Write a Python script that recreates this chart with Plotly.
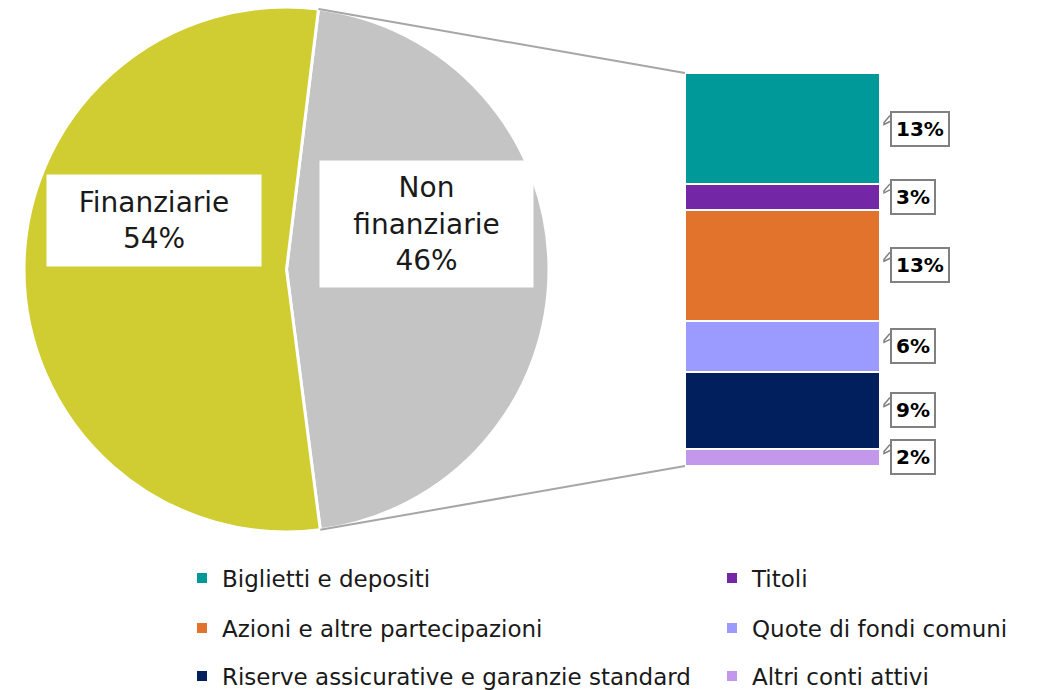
import math
import plotly.graph_objects as go

# ---- data ----
pie_labels = ["Non finanziarie", "Finanziarie"]
pie_values = [46, 54]
pie_colors = ["#C4C4C4", "#D0CD32"]

bar_names = ["Biglietti e depositi", "Titoli", "Azioni e altre partecipazioni",
             "Quote di fondi comuni", "Riserve assicurative e garanzie standard",
             "Altri conti attivi"]
bar_values = [13, 3, 13, 6, 9, 2]
bar_colors = ["#009999", "#7326A6", "#E2732D", "#9B9BFF", "#001F5C", "#C398EB"]

W, H = 1043, 690
FONT = "DejaVu Sans"

# ---- layout geometry (pixels) ----
pie_box = (24, 7, 549, 532)  # left, top, right, bottom
bar_box = (685, 73, 880, 466)
legend_cols = [182, 712]
legend_rows = [578, 628, 676]
callout_gap = 10

def px2paper(x, y):
    return x / W, 1 - y / H

fig = go.Figure()

fig.add_trace(go.Pie(
    labels=pie_labels, values=pie_values, sort=False, direction="clockwise",
    rotation=7, textinfo="none", hoverinfo="label+percent", showlegend=False,
    marker=dict(colors=pie_colors, line=dict(color="white", width=3)),
    domain=dict(x=[pie_box[0] / W, pie_box[2] / W], y=[1 - pie_box[3] / H, 1 - pie_box[1] / H]),
))

total = sum(bar_values)
legend_layout = {}
for i, (name, v, c) in enumerate(zip(bar_names, bar_values, bar_colors)):
    lg = "legend" if i == 0 else f"legend{i + 1}"
    fig.add_trace(go.Bar(
        x=[0.5], y=[v], width=1, name=name, marker=dict(color=c, line=dict(color="white", width=2)),
        legend=lg, hovertemplate=name + ": %{y}%<extra></extra>",
    ))
    lx, ly = px2paper(legend_cols[i % 2], legend_rows[i // 2])
    legend_layout[lg] = dict(x=lx, y=ly, xanchor="left", yanchor="middle",
                             font=dict(family=FONT, size=23, color="#1a1a1a"),
                             bgcolor="rgba(0,0,0,0)")

# callout labels
px_per_y = (bar_box[3] - bar_box[1]) / total
cum = 0
for v in bar_values:
    mid = cum + v / 2
    cum += v
    fig.add_annotation(
        x=1, y=mid, xref="x", yref="y", xanchor="left", yanchor="middle", xshift=callout_gap,
        text=f"<b>{v}%</b>", showarrow=False, bgcolor="white", bordercolor="#808080",
        borderwidth=2, borderpad=4, font=dict(family=FONT, size=20, color="black"),
    )
    # small speech-bubble tail on the upper left of the callout box
    mid_px = bar_box[1] + mid * px_per_y
    pts = [(callout_gap, -13), (callout_gap - 6, -6), (callout_gap - 6, -4), (callout_gap, -7)]
    path = "M " + " L ".join(
        "{:.5f},{:.5f}".format(*px2paper(bar_box[2] + dx, mid_px + dy)) for dx, dy in pts)
    fig.add_shape(type="path", xref="paper", yref="paper", path=path,
                  line=dict(color="#808080", width=1.5))

# connector lines from pie slice edges to bar corners
cx = (pie_box[0] + pie_box[2]) / 2
cy = (pie_box[1] + pie_box[3]) / 2
r = (pie_box[2] - pie_box[0]) / 2
a0 = math.radians(7)
a1 = math.radians(7 + 360 * pie_values[0] / sum(pie_values))
for ang, by in ((a0, bar_box[1]), (a1, bar_box[3])):
    px, py = cx + r * math.sin(ang), cy - r * math.cos(ang)
    x0, y0 = px2paper(px, py)
    x1, y1 = px2paper(bar_box[0], by)
    fig.add_shape(type="line", xref="paper", yref="paper", x0=x0, y0=y0, x1=x1, y1=y1,
                  line=dict(color="#A6A6A6", width=2))

# pie labels
for txt, (l, t, rr, b) in (("Finanziarie<br>54%", (47, 175, 261, 266)),
                           ("Non<br>finanziarie<br>46%", (320, 161, 533, 287))):
    xc, yc = px2paper((l + rr) / 2, (t + b) / 2)
    fig.add_annotation(x=xc, y=yc, xref="paper", yref="paper", xanchor="center", yanchor="middle",
                       text=txt, showarrow=False, width=rr - l, height=b - t,
                       bgcolor="white", align="center", borderpad=0,
                       font=dict(family=FONT, size=28, color="#1a1a1a"))

fig.update_layout(
    width=W, height=H, margin=dict(l=0, r=0, t=0, b=0, autoexpand=False),
    paper_bgcolor="white", plot_bgcolor="white", barmode="stack",
    xaxis=dict(domain=[bar_box[0] / W, bar_box[2] / W], range=[0, 1], visible=False, fixedrange=True),
    yaxis=dict(domain=[1 - bar_box[3] / H, 1 - bar_box[1] / H], range=[total, 0], visible=False, fixedrange=True),
    **legend_layout,
)

fig.write_html("out.html", config={"displayModeBar": False},
               post_script="document.body.style.margin='0';")
